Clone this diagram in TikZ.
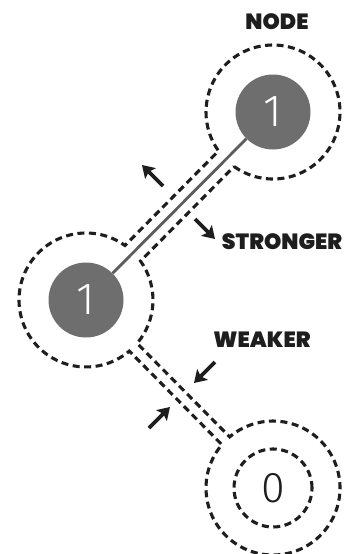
\documentclass[tikz,border=0pt]{standalone}
\usepackage{fontspec}
\setmainfont{Poppins}
\newfontfamily\lblfont{Poppins Black}
\newfontfamily\digitfont{Fira Sans Light}
\usetikzlibrary{arrows.meta,calc}
\definecolor{fillgray}{HTML}{6E6E6E}
\definecolor{ink}{HTML}{1E1E1E}
\tikzset{
  dashline/.style={draw=ink, line width=3.1pt, dash pattern=on 7pt off 4.5pt, line cap=butt},
  full/.style={circle, fill=fillgray, minimum size=75pt, inner sep=0pt, text=white, font=\digitfont\fontsize{45}{45}\selectfont},
  empty/.style={circle, minimum size=78pt, inner sep=0pt, text=ink, font=\digitfont\fontsize{43}{43}\selectfont},
  strongline/.style={draw=fillgray!85!black, line width=2.8pt},
  arr/.style={draw=ink, line width=3.6pt, -{Stealth[length=12pt,width=15pt,inset=2.5pt]}},
  lbl/.style={text=ink, font=\lblfont\fontsize{22}{22}\selectfont, inner sep=0pt}
}
\begin{document}
\begin{tikzpicture}[x=1pt,y=1pt]
\useasboundingbox[fill=white] (0,0) rectangle (344,-554);
% nodes
\node[full] (A) at (273,-112) {1};
\node[full] (B) at (86,-300) {1};
\node[empty] (C) at (273,-488) {0};
% outer dashed union outline
\draw[dashline]
  ($(A.center)+(234.45:67)$) arc[start angle=234.45, end angle=575.55, radius=67]
  -- ($(B.center)+(54.45:67)$) arc[start angle=54.45, end angle=310.3, radius=67]
  -- ($(C.center)+(139.7:67)$) arc[start angle=139.7, end angle=490.3, radius=67]
  -- ($(B.center)+(319.7:67)$) arc[start angle=319.7, end angle=395.55, radius=67]
  -- cycle;
% inner dashed circle of C
\draw[dashline] (C.center) circle[radius=39];
% strong link
\draw[strongline] (A) -- (B);
% arrows
\coordinate (s1) at (163,-186); \coordinate (e1) at (142,-165);
\coordinate (s2) at (195,-219); \coordinate (e2) at (215,-239);
\coordinate (s3) at (215,-362); \coordinate (e3) at (194,-383);
\coordinate (s4) at (149,-428); \coordinate (e4) at (170,-407);
\draw[arr] (s1) -- (e1);
\draw[arr] (s2) -- (e2);
\draw[arr] (s3) -- (e3);
\draw[arr] (s4) -- (e4);
% labels
\node[lbl] (nodelbl) at (277,-22) {NODE};
\node[lbl] (stronglbl) at (282,-242) {STRONGER};
\node[lbl] (weaklbl) at (262,-340) {WEAKER};
\end{tikzpicture}
\end{document}
